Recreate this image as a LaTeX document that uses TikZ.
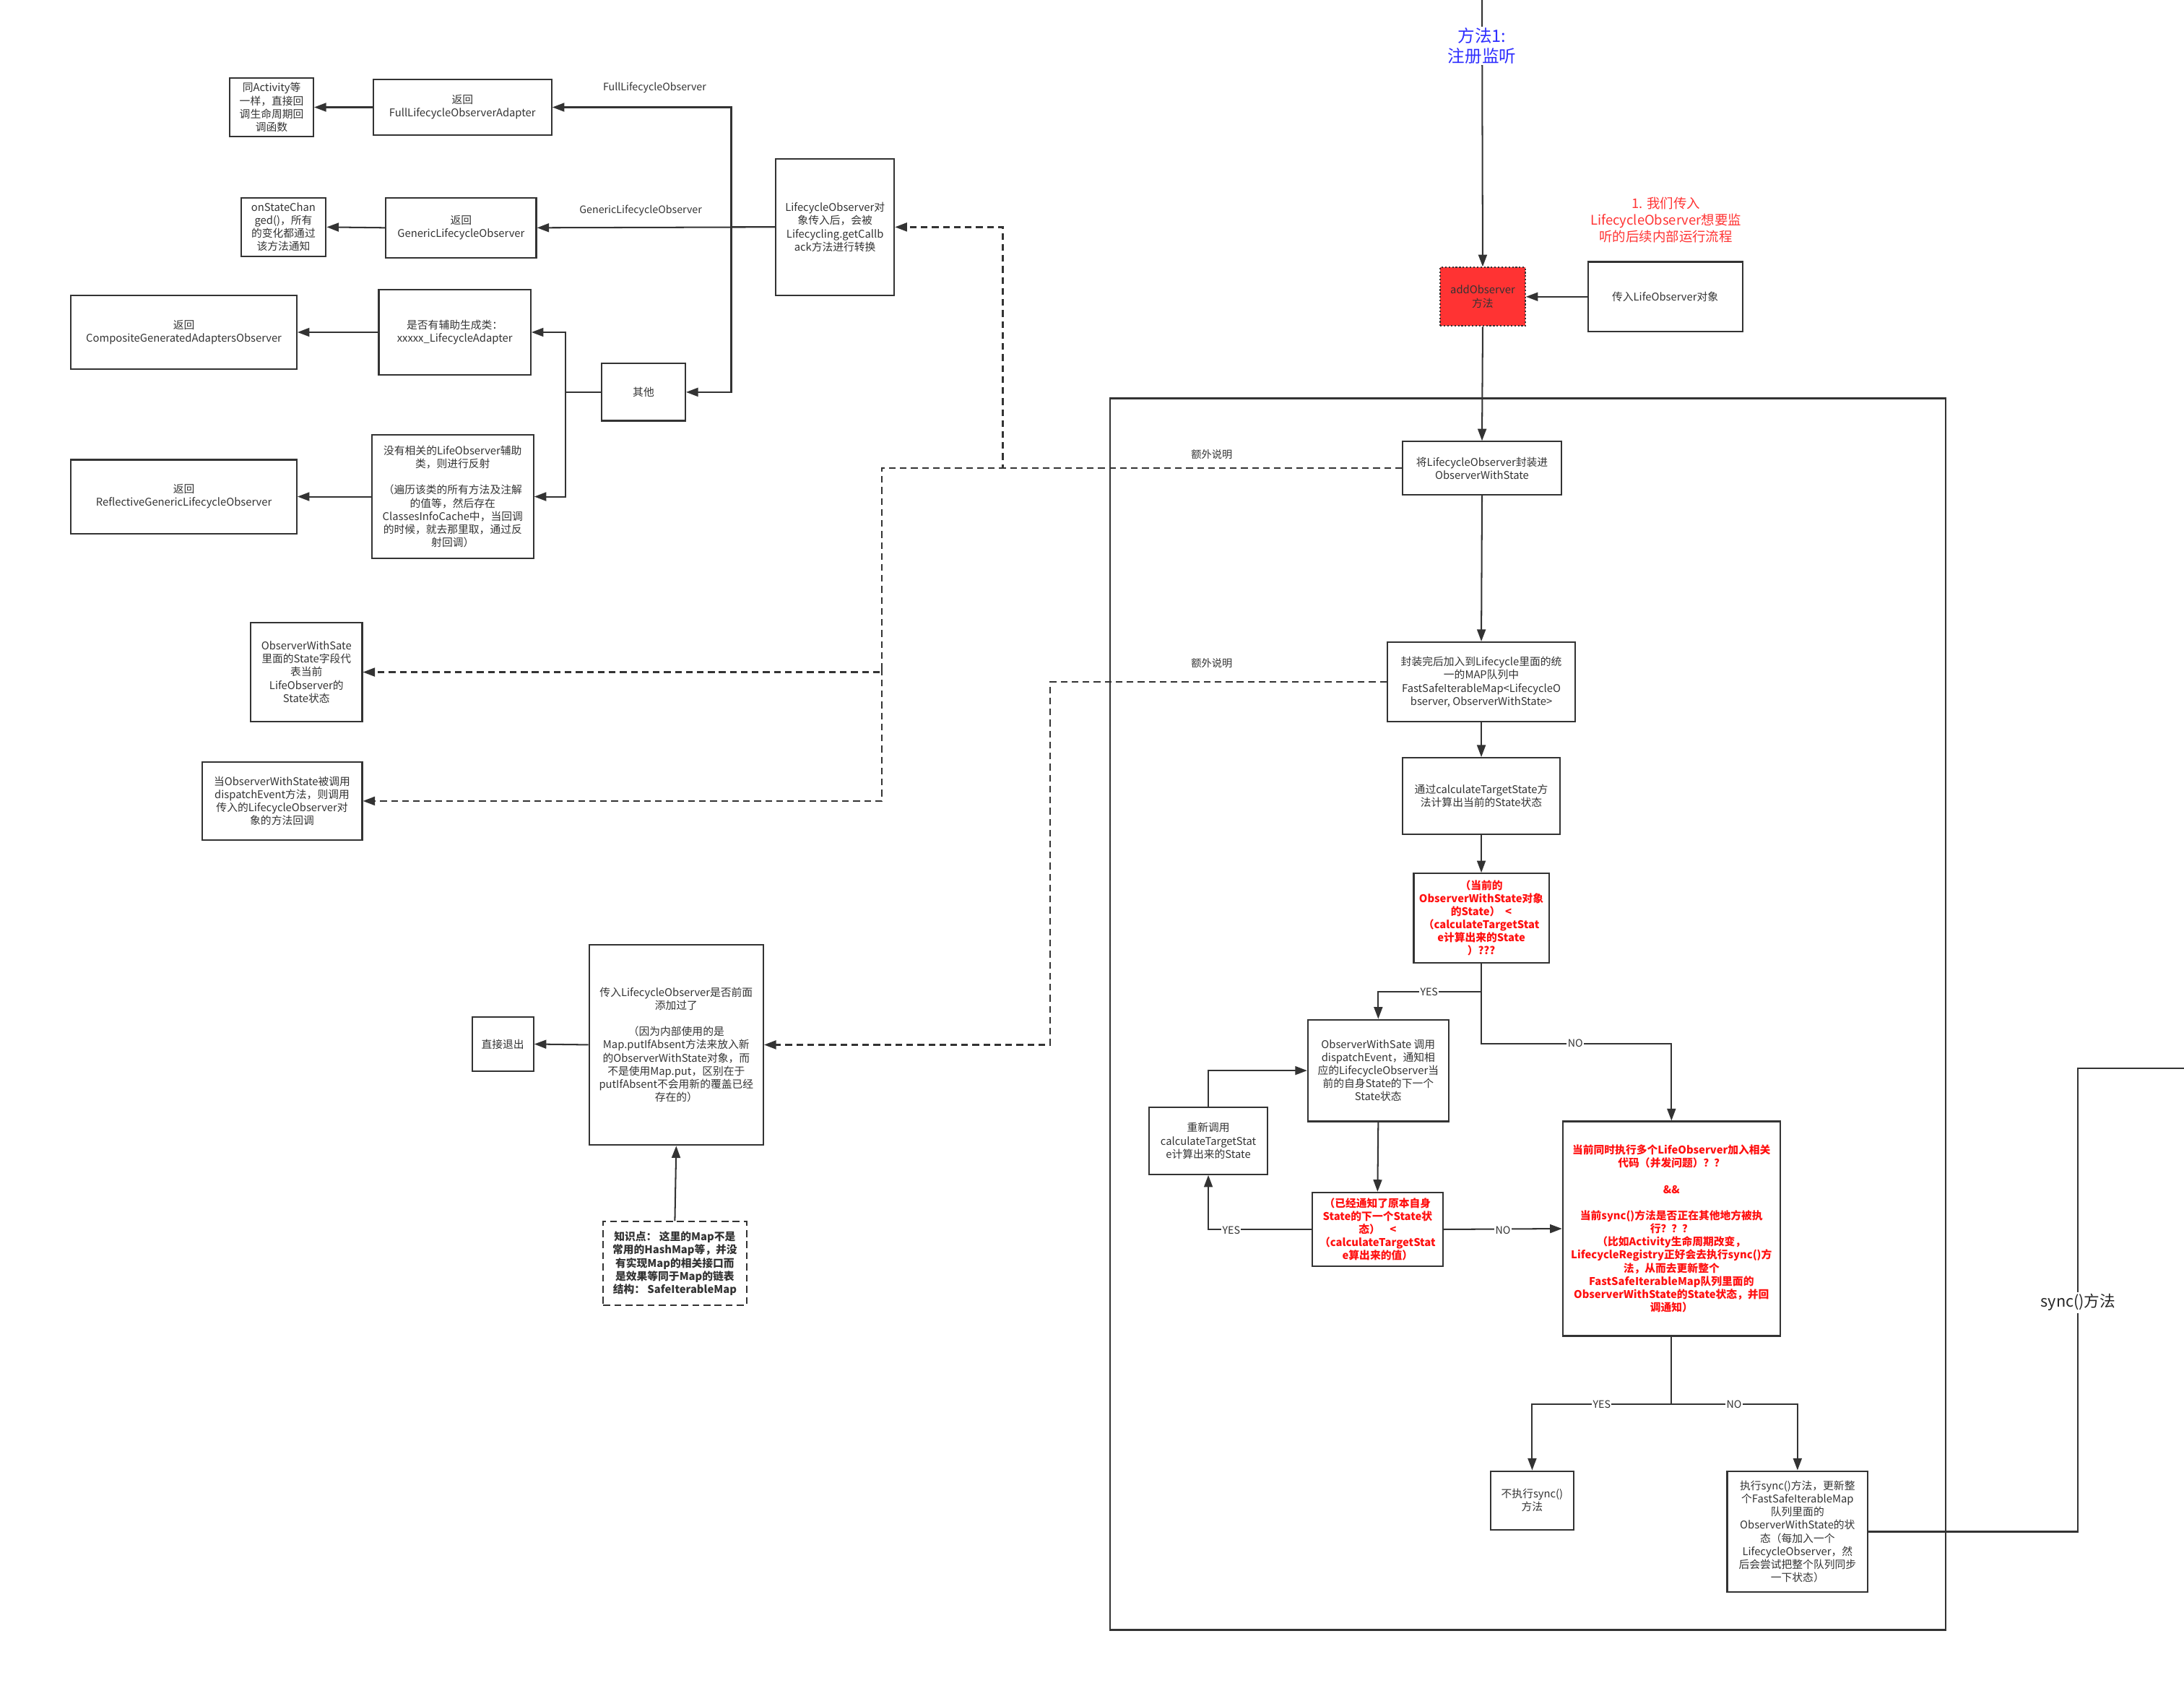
\documentclass[tikz,border=0pt]{standalone}
\usepackage{fontspec}
\setmainfont{Noto Sans CJK SC}
\usetikzlibrary{arrows.meta}
\definecolor{lc}{HTML}{333333}
\definecolor{rt}{HTML}{FF1010}
\definecolor{ra}{HTML}{FF3333}
\definecolor{bt}{HTML}{2E2EFF}
\newcommand\bodyfont{\fontsize{10.9}{13.4}\selectfont}
\newcommand\lblfont{\fontsize{10.5}{12}\selectfont}
\tikzset{
  box/.style={draw=lc, line width=1.6pt, align=center, inner sep=1pt, text=lc, font=\bodyfont},
  sz/.style 2 args={minimum width=#1*0.05cm, minimum height=#2*0.05cm},
  redb/.style={text=rt, font=\bodyfont\bfseries},
  ar/.style={draw=lc, line width=1.5pt, -{Triangle[length=0.43cm,width=0.31cm]}},
  pl/.style={draw=lc, line width=1.5pt},
  dsh/.style={ar, line width=1.7pt, dash pattern=on 0.24cm off 0.155cm},
  lbl/.style={fill=white, inner sep=1pt, text=lc, font=\lblfont},
  tl/.style={inner sep=1pt, text=lc, font=\lblfont}
}
\begin{document}
\begin{tikzpicture}[x=0.05cm,y=-0.05cm]
\useasboundingbox (0,0) rectangle (1568,1208);
% big frame
\node[draw=lc, line width=1.6pt, sz={600}{884}] (frame) at (1097,728) {};
% left top
\node[box, sz={60}{42}] (A) at (195,77) {同Activity等\\一样，直接回\\调生命周期回\\调函数};
\node[box, sz={128}{40}] (B) at (332,77) {返回\\FullLifecycleObserverAdapter};
\node[box, sz={61}{42}] (C) at (203.5,163) {onStateChan\\ged()，所有\\的变化都通过\\该方法通知};
\node[box, sz={108}{43}] (D) at (331,163.5) {返回\\GenericLifecycleObserver};
\node[box, sz={162}{53}] (E) at (132,238.5) {返回\\CompositeGeneratedAdaptersObserver};
\node[box, sz={109}{61}] (F) at (326.5,238.5) {是否有辅助生成类：\\xxxxx\_LifecycleAdapter};
\node[box, sz={60}{41}] (G) at (462,281.5) {其他};
\node[box, sz={162}{53}] (H) at (132,356.5) {返回\\ReflectiveGenericLifecycleObserver};
\node[box, sz={116}{89}] (I) at (325,356.5) {没有相关的LifeObserver辅助\\类，则进行反射\\\mbox{}\\（遍历该类的所有方法及注解\\的值等，然后存在\\ClassesInfoCache中，当回调\\的时候，就去那里取，通过反\\射回调）};
\node[box, sz={85}{98}] (J) at (599.5,163) {LifecycleObserver对\\象传入后，会被\\Lifecycling.getCallb\\ack方法进行转换};
\node[box, sz={80}{71}] (K) at (220,482.5) {ObserverWithSate\\里面的State字段代\\表当前\\LifeObserver的\\State状态};
\node[box, sz={115}{56}] (L) at (202.5,575) {当ObserverWithState被调用\\dispatchEvent方法，则调用\\传入的LifecycleObserver对\\象的方法回调};
\node[box, sz={125}{144}] (O) at (485.5,750) {传入LifecycleObserver是否前面\\添加过了\\\mbox{}\\（因为内部使用的是\\Map.putIfAbsent方法来放入新\\的ObserverWithState对象，而\\不是使用Map.put，区别在于\\putIfAbsent不会用新的覆盖已经\\存在的）};
\node[box, sz={44}{39}] (P) at (361,749.5) {直接退出};
\node[box, sz={103}{60}, dash pattern=on 0.25cm off 0.15cm, font=\bodyfont\bfseries] (Q) at (484.5,907) {知识点：\ 这里的Map不是\\常用的HashMap等，并没\\有实现Map的相关接口而\\是效果等同于Map的链表\\结构：\ SafeIterableMap};
% right column
\node[box, sz={61}{42}, fill=ra, dotted] (R) at (1064.5,213) {addObserver\\方法};
\node[box, sz={111}{50}] (S) at (1195.5,213) {传入LifeObserver对象};
\node[box, sz={114}{38}] (M) at (1064,336) {将LifecycleObserver封装进\\ObserverWithState};
\node[box, sz={135}{57}] (N) at (1063.5,489.5) {封装完后加入到Lifecycle里面的统\\一的MAP队列中\\FastSafeIterableMap<LifecycleO\\bserver, ObserverWithState>};
\node[box, sz={113}{55}] (T) at (1063.5,571.5) {通过calculateTargetState方\\法计算出当前的State状态};
\node[box, redb, sz={97}{64}] (U) at (1063.5,659) {（当前的\\ObserverWithState对象\\的State）\ \ <\\（calculateTargetStat\\e计算出来的State\\）???};
\node[box, sz={101}{73}] (V) at (989.5,768.5) {ObserverWithSate 调用\\dispatchEvent，通知相\\应的LifecycleObserver当\\前的自身State的下一个\\State状态};
\node[box, redb, sz={156}{154}] (W) at (1200,882) {当前同时执行多个LifeObserver加入相关\\代码（并发问题）？？\\\mbox{}\\\&\&\\\mbox{}\\当前sync()方法是否正在其他地方被执\\行？？？\\（比如Activity生命周期改变，\\LifecycleRegistry正好会去执行sync()方\\法，从而去更新整个\\FastSafeIterableMap队列里面的\\ObserverWithState的State状态，并回\\调通知）};
\node[box, redb, sz={94}{53}] (X) at (989,882.5) {（已经通知了原本自身\\State的下一个State状\\态）\ \ \ \ <\\（calculateTargetStat\\e算出来的值）};
\node[box, sz={85}{48}] (Y) at (867.5,819) {重新调用\\calculateTargetStat\\e计算出来的State};
\node[box, sz={60}{42}] (Z1) at (1100,1077) {不执行sync()\\方法};
\node[box, sz={101}{87}] (Z2) at (1290.5,1099.5) {执行sync()方法，更新整\\个FastSafeIterableMap\\队列里面的\\ObserverWithState的状\\态（每加入一个\\LifecycleObserver，然\\后会尝试把整个队列同步\\一下状态）};
% annotations
\node[align=center, text=ra, font=\fontsize{13.6}{17}\selectfont] (ann) at (1196,158) {1. 我们传入\\LifecycleObserver想要监\\听的后续内部运行流程};
\coordinate (top) at (1064,0);
\draw[ar] (top) -- (R.north);
\node[fill=white, align=center, text=bt, inner sep=1pt, font=\fontsize{17.4}{21}\selectfont] (title) at (1064,33) {方法1:\\注册监听};
% left connectors
\draw[pl] (J.west) -- (525,163) coordinate (jx);
\draw[ar] (jx) |- (B.east);
\draw[ar] (J.west) -- (D.east);
\draw[ar] (jx) |- (G.east);
\node[tl] (l1) at (470,63) {FullLifecycleObserver};
\node[tl] (l2) at (460,151) {GenericLifecycleObserver};
\draw[ar] (B.west) -- (A.east);
\draw[ar] (D.west) -- (C.east);
\draw[pl] (G.west) -- (406,281.5) coordinate (gx);
\draw[ar] (gx) |- (F.east);
\draw[ar] (gx) |- (I.east);
\draw[ar] (F.west) -- (E.east);
\draw[ar] (I.west) -- (H.east);
% dashed explanation connectors
\draw[dsh] (M.west) -- (720,336) |- (J.east);
\draw[dsh] (M.west) -- (633,336) |- (K.east);
\draw[dsh] (633,480) |- (L.east);
\node[tl] (e1) at (870,326) {额外说明};
\draw[dsh] (N.west) -- (754,489.5) |- (O.east);
\node[tl] (e2) at (870,476) {额外说明};
\draw[ar] (O.west) -- (P.east);
\draw[ar] (Q.north) -- (O.south);
% right flow
\draw[ar] (S.west) -- (R.east);
\draw[ar] (R.south) -- (M.north);
\draw[ar] (M.south) -- (N.north);
\draw[ar] (N.south) -- (T.north);
\draw[ar] (T.south) -- (U.north);
\draw[pl] (U.south) -- (1063.5,712) coordinate (ux);
\draw[ar] (ux) -| (V.north);
\draw[ar] (ux) -- (1063.5,749) -| (W.north);
\node[lbl] (y1) at (1026,712) {YES};
\node[lbl] (n1) at (1131,749) {NO};
\draw[ar] (V.south) -- (X.north);
\draw[ar] (X.west) -| (Y.south);
\node[lbl] (y2) at (884,883) {YES};
\draw[ar] (Y.north) |- (V.west);
\draw[ar] (X.east) -- (W.west);
\node[lbl] (n2) at (1079,883) {NO};
\draw[pl] (W.south) -- (1200,1008) coordinate (wx);
\draw[ar] (wx) -| (Z1.north);
\draw[ar] (wx) -| (Z2.north);
\node[lbl] (y3) at (1150,1008) {YES};
\node[lbl] (n3) at (1245,1008) {NO};
\coordinate (edge) at (1568,767);
\draw[pl] (Z2.east) -- (1492,1099.5) |- (edge);
\node[fill=white, inner sep=2pt, text=black!85, font=\fontsize{16}{19}\selectfont] (syn) at (1492,935) {sync()方法};
\end{tikzpicture}
\end{document}
